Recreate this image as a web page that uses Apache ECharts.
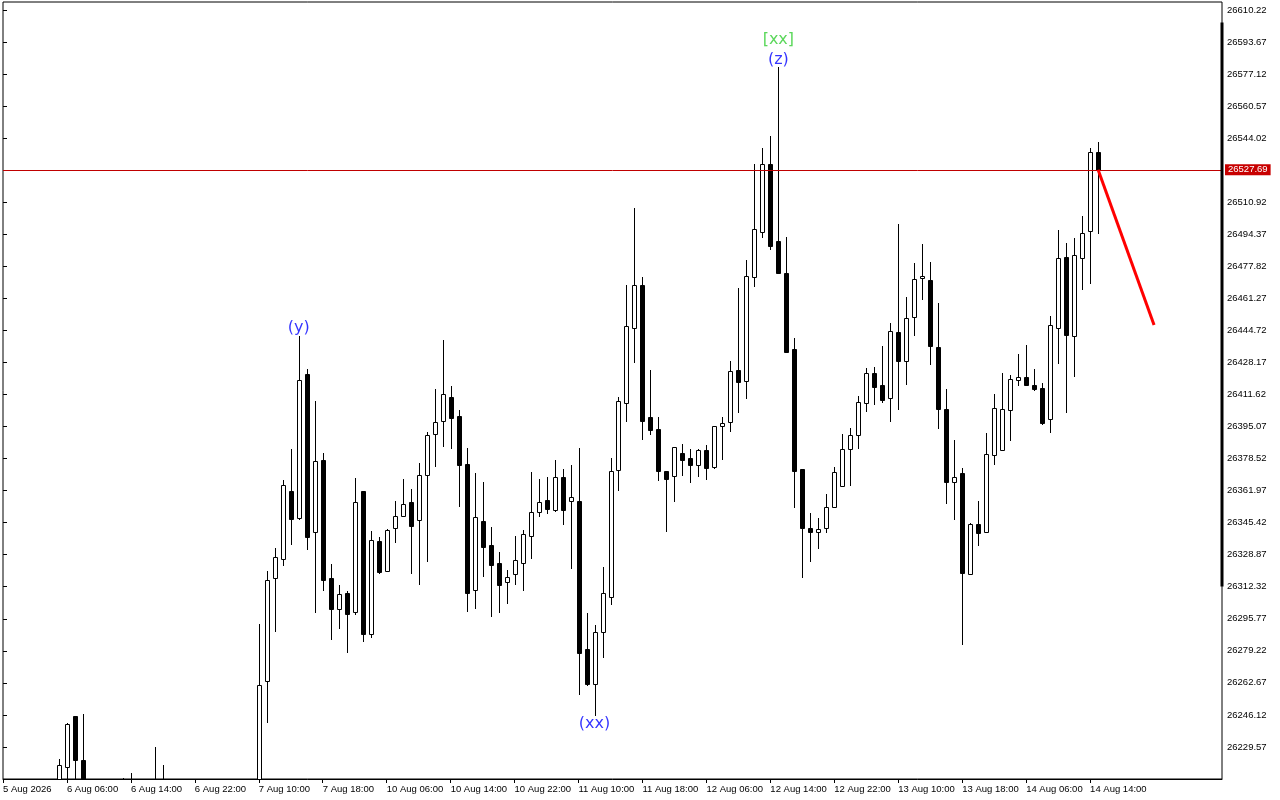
<!DOCTYPE html>
<html><head><meta charset="utf-8">
<script src="https://cdn.jsdelivr.net/npm/echarts@6/dist/echarts.min.js"></script>
<style>html,body{margin:0;padding:0;background:#fff}#c{width:1280px;height:800px}</style>
</head><body><div id="c"></div>
<script>
// H1 bars, index 0..137 (5 Aug 2026 .. 14 Aug 2026)
const opens = [26190,26194,26189,26192,26200,26197,26203,26205,26219.32,26245.66,
26222.94,26195,26199,26192,26186,26195,26203,26200,26194,26201,
26204,26198,26192,26187,26193,26190,26185,26189,26195,26191,
26196,26200,26198,26263.73,26316.76,26326.88,26361.69,26348.06,26422.26,26340.52,
26377.85,26316.76,26300.76,26309.02,26299.52,26361.69,26288.16,26335.87,26320.38,26342.58,
26348.78,26356.01,26347.02,26369.95,26391.12,26397.83,26410.23,26400.42,26375.63,26310.57,
26346.20,26333.80,26324.51,26314.70,26318.83,26324.51,26338.45,26350.84,26357.04,26352.03,
26368.92,26356.52,26356.52,26280.15,26262.34,26288.78,26306.85,26372.43,26407.13,26445.86,
26468.06,26399.90,26393.70,26372.02,26369.43,26381.31,26378.73,26375.42,26382.86,26374.39,
26395.56,26397.32,26424.06,26418.80,26472.09,26495.32,26530.54,26490.68,26474.26,26434.91,
26372.94,26342.89,26340.41,26342.48,26353.43,26364.27,26383.37,26390.60,26407.13,26422.62,
26416.42,26409.71,26443.79,26428.71,26451.54,26471.67,26470.64,26436.05,26404.03,26366.34,
26370.98,26318.83,26344.65,26340.52,26380.28,26382.86,26403.51,26419.00,26420.55,26416.42,
26414.87,26398.87,26445.86,26482.52,26441.73,26482.00,26495.94,26536.74];
const highs = [26198,26201,26196,26204,26207,26206,26209,26223.46,26242.05,26245.66,
26246.69,26204,26206,26200,26198,26213.64,26216.22,26208,26205,26229.65,
26220.36,26206,26199,26196,26202,26197,26194,26198,26203,26200,
26205,26208,26293.16,26320.53,26332.25,26367.52,26383.53,26441.88,26424.68,26408.32,
26381.46,26323.99,26313.30,26310.21,26368.55,26361.84,26341.19,26338.09,26342.22,26356.68,
26368.04,26362.88,26376.30,26392.15,26414.36,26439.81,26415.91,26403.51,26384.05,26370.98,
26366.34,26343.25,26330.19,26320.90,26338.61,26341.70,26371.50,26367.89,26369.07,26377.69,
26373.05,26375.16,26383.94,26298.69,26292.49,26322.44,26378.78,26410.28,26468.06,26507.82,
26472.19,26424.17,26399.90,26372.02,26384.41,26385.96,26383.37,26383.37,26385.44,26395.56,
26400.21,26428.71,26466.56,26480.87,26530.54,26538.80,26545.00,26580.63,26492.85,26440.69,
26372.94,26350.33,26347.75,26360.14,26374.08,26391.12,26394.22,26410.74,26425.20,26425.72,
26436.87,26448.49,26499.61,26461.86,26479.42,26489.23,26479.94,26458.77,26414.36,26388.02,
26373.56,26345.16,26356.52,26391.64,26411.78,26422.62,26421.59,26432.43,26437.08,26424.68,
26417.46,26452.05,26496.46,26489.75,26492.33,26503.69,26538.80,26541.90];
const lows = [26182,26186,26180,26188,26193,26190,26198,26200,26206,26205,
26188,26185,26188,26180,26178,26190,26196,26190,26187,26196,
26195,26188,26183,26180,26186,26182,26178,26183,26188,26184,
26190,26192,26192,26242.56,26289.71,26323.79,26334.63,26347.54,26332.05,26299.52,
26310.88,26285.57,26291.25,26278.86,26298.48,26284.54,26286.61,26319.66,26320.38,26335.66,
26348.78,26319.66,26313.97,26325.85,26374.91,26385.23,26384.20,26354.25,26300.03,26301.58,
26318.11,26297.45,26299.52,26304.17,26313.97,26310.88,26327.40,26348.78,26350.64,26351.67,
26344.54,26322.24,26257.17,26261.82,26246.18,26275.87,26303.23,26362.51,26397.73,26428.61,
26388.44,26391.43,26367.68,26341.34,26356.83,26370.26,26366.64,26369.74,26368.19,26373.87,
26378.52,26392.98,26402.79,26410.02,26467.85,26492.74,26486.96,26474.15,26433.77,26353.32,
26317.59,26325.85,26332.56,26340.83,26353.43,26364.27,26365.10,26384.20,26403.31,26406.92,
26407.95,26398.14,26404.34,26417.25,26442.14,26460.83,26427.27,26394.53,26355.49,26347.13,
26282.68,26318.83,26333.70,26340.52,26375.53,26382.86,26388.02,26416.42,26416.42,26413.84,
26396.59,26392.46,26427.78,26402.79,26421.38,26466.30,26469.40,26495.22];
const closes = [26194,26189,26192,26200,26197,26203,26205,26220.36,26241.53,26222.58,
26195,26199,26192,26186,26195,26203,26200,26194,26201,26204,
26198,26192,26187,26193,26190,26185,26189,26195,26191,26196,
26200,26198,26261.67,26315.89,26327.61,26364.78,26347.54,26419.00,26338.24,26377.18,
26315.73,26301.07,26308.50,26298.48,26356.01,26288.16,26336.39,26320.02,26341.55,26348.78,
26354.97,26343.93,26369.95,26390.60,26397.32,26411.78,26399.69,26375.42,26309.02,26348.26,
26333.08,26323.79,26313.46,26317.59,26326.06,26339.48,26351.15,26356.32,26352.39,26368.92,
26352.19,26358.59,26277.93,26262.34,26288.78,26308.91,26372.02,26408.16,26446.89,26468.06,
26397.73,26393.08,26371.91,26368.19,26384.41,26378.00,26375.42,26382.86,26373.87,26395.56,
26397.11,26423.55,26418.28,26472.60,26496.87,26530.54,26488.51,26474.15,26433.77,26372.32,
26342.89,26340.41,26342.38,26353.32,26371.50,26383.37,26390.60,26407.64,26422.52,26415.70,
26408.99,26444.31,26428.71,26451.02,26471.16,26472.71,26436.56,26404.03,26366.34,26368.92,
26319.35,26344.65,26340.00,26380.79,26404.55,26404.03,26419.52,26420.55,26416.42,26414.36,
26397.11,26447.41,26482.00,26442.24,26483.55,26494.91,26536.74,26527.69];

const xTickIdx = [0,8,16,24,32,40,48,56,64,72,80,88,96,104,112,120,128,136];
const xTickLabels = ["5 Aug 2026","6 Aug 06:00","6 Aug 14:00","6 Aug 22:00","7 Aug 10:00","7 Aug 18:00",
 "10 Aug 06:00","10 Aug 14:00","10 Aug 22:00","11 Aug 10:00","11 Aug 18:00","12 Aug 06:00",
 "12 Aug 14:00","12 Aug 22:00","13 Aug 10:00","13 Aug 18:00","14 Aug 06:00","14 Aug 14:00"];
const yTicks = [26229.57,26246.12,26262.67,26279.22,26295.77,26312.32,26328.87,26345.42,26361.97,
 26378.52,26395.07,26411.62,26428.17,26444.72,26461.27,26477.82,26494.37,26510.92,
 26544.02,26560.57,26577.12,26593.67,26610.22];
const currentPrice = 26527.69;
const forecastIdx = [137, 144];
const forecastPrice = [26527.69, 26447.56];
const rangeBar = [26603.7, 26312.4];
const annoText = ['(y)', '(xx)', '(z)', '[xx]'];
const annoIdx = [37, 74, 97, 97];
const annoPrice = [26446.0, 26241.5, 26584.4, 26594.9];
const annoColor = ['#0000ff', '#0000ff', '#0000ff', '#32cd32'];

const FONT = "'Liberation Sans',Arial,sans-serif";
const candleData = opens.map((o, i) => [i, o, closes[i], lows[i], highs[i]]);

function renderCandle(params, api) {
  const x = api.value(0);
  const o = api.value(1), c = api.value(2), l = api.value(3), h = api.value(4);
  const pO = api.coord([x, o]), pC = api.coord([x, c]);
  const pL = api.coord([x, l]), pH = api.coord([x, h]);
  const cx = Math.round(pO[0]) + 0.5;
  const yTop = Math.round(Math.min(pO[1], pC[1])) + 0.5;
  const yBot = Math.round(Math.max(pO[1], pC[1])) + 0.5;
  const bull = c >= o;
  return {
    type: 'group',
    children: [
      {type: 'line', shape: {x1: cx, y1: Math.round(pH[1]), x2: cx, y2: Math.round(pL[1]) + 1},
        style: {stroke: '#000', lineWidth: 1}},
      {type: 'rect', shape: {x: cx - 2, y: yTop, width: 4, height: yBot - yTop},
        style: {fill: bull ? '#ffffff' : '#000000', stroke: '#000', lineWidth: 1}}
    ]
  };
}

const chart = echarts.init(document.getElementById('c'), null, {renderer: 'canvas'});
chart.setOption({
  animation: false,
  backgroundColor: '#ffffff',
  grid: {left: 2, right: 58, top: 2, bottom: 21, show: true, borderColor: '#000', borderWidth: 1},
  xAxis: {
    type: 'value', min: 0, max: 152.5,
    splitLine: {show: false},
    axisLine: {show: true, onZero: false, lineStyle: {color: '#000'}},
    axisTick: {show: true, customValues: xTickIdx, length: 4, lineStyle: {color: '#000'}},
    axisLabel: {customValues: xTickIdx, formatter: v => xTickLabels[xTickIdx.indexOf(v)] || '',
      showMinLabel: true, showMaxLabel: true, hideOverlap: false,
      align: 'left', color: '#000', fontSize: 9.5, fontFamily: FONT, margin: 5}
  },
  yAxis: {
    type: 'value', position: 'right', min: 26213.02, max: 26614.35,
    splitLine: {show: false},
    axisLine: {show: false},
    axisTick: {show: true, customValues: yTicks, length: 4, lineStyle: {color: '#000'}},
    axisLabel: {customValues: yTicks, formatter: v => v.toFixed(2), color: '#000',
      showMinLabel: true, showMaxLabel: true,
      fontSize: 9.5, fontFamily: FONT, margin: 5}
  },
  series: [
    {
      type: 'custom', data: candleData, renderItem: renderCandle, clip: true,
      encode: {x: 0, y: [1, 2, 3, 4]}, z: 3,
      markLine: {
        silent: true, symbol: ['none', 'none'],
        lineStyle: {color: '#c00000', width: 1, type: 'solid'},
        label: {show: true, position: 'end', formatter: currentPrice.toFixed(2), color: '#fff',
          backgroundColor: '#c80000', padding: [1, 3, 0, 3], fontSize: 9.5, fontFamily: FONT, distance: 3},
        data: [{yAxis: currentPrice}]
      }
    },
    {
      type: 'line', data: forecastIdx.map((x, k) => [x, forecastPrice[k]]),
      symbol: 'none', lineStyle: {color: '#ff0000', width: 3}, z: 5
    },
    {
      type: 'line', data: [[152.5, rangeBar[0]], [152.5, rangeBar[1]]], clip: false,
      symbol: 'none', lineStyle: {color: '#000', width: 3}, z: 6
    },
    {
      type: 'scatter', symbolSize: 0, z: 7,
      data: annoText.map((t, k) => ({value: [annoIdx[k], annoPrice[k]], name: t,
        label: {color: annoColor[k]}})),
      label: {show: true, position: 'inside', formatter: p => p.name,
        fontSize: 16, fontFamily: "'DejaVu Sans',sans-serif"}
    }
  ]
});
</script></body></html>
